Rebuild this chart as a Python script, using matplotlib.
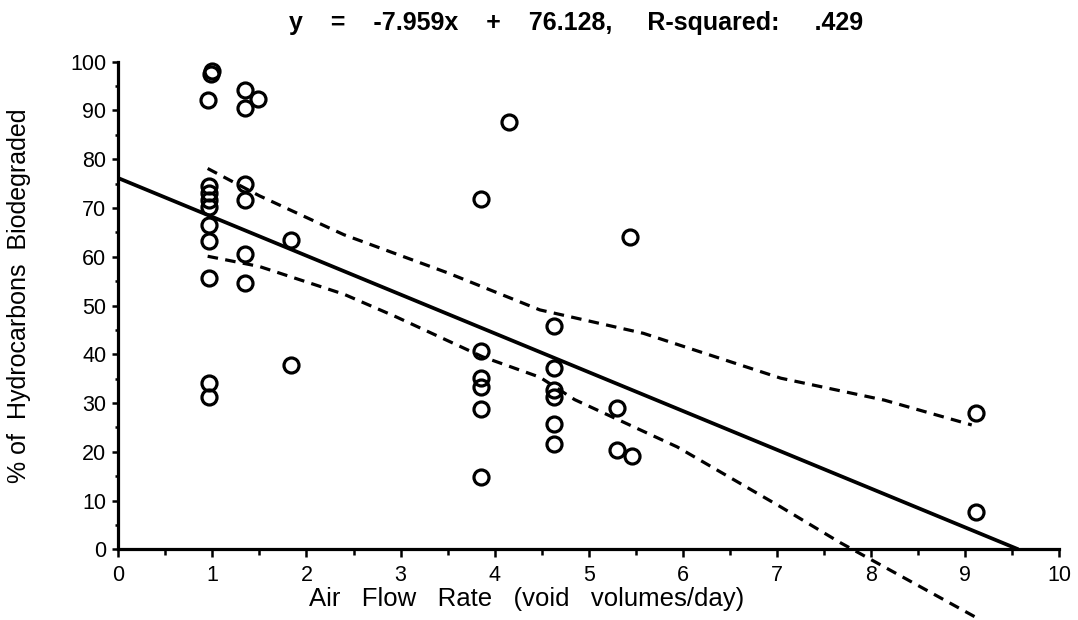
import numpy as np
import matplotlib.pyplot as plt
from matplotlib.ticker import MultipleLocator

plt.rcParams['font.family'] = ['Liberation Sans', 'DejaVu Sans']

# measured points: air flow rate vs. % biodegraded
flow = [0.99, 1.00, 0.95, 0.96, 0.96, 0.96, 0.96, 0.96, 0.96, 0.96, 0.96, 0.96,
        1.35, 1.35, 1.35, 1.35, 1.35, 1.35, 1.49,
        1.84, 1.84,
        3.85, 3.85, 3.85, 3.85, 3.85, 3.85,
        4.15,
        4.63, 4.63, 4.63, 4.63, 4.63, 4.63,
        5.30, 5.30, 5.46, 5.44,
        9.12, 9.12]
pct = [97.5, 98.0, 92.1, 74.5, 73.0, 71.6, 70.3, 66.5, 63.3, 55.6, 34.2, 31.3,
       94.1, 90.6, 75.0, 71.6, 60.5, 54.6, 92.3,
       63.4, 37.7,
       71.8, 40.7, 35.1, 33.3, 28.8, 14.9,
       87.6,
       45.7, 37.1, 32.7, 31.3, 25.8, 21.7,
       28.9, 20.4, 19.1, 64.0,
       27.9, 7.7]

# regression from the fitted equation
slope = -7.959
intercept = 76.128
r_squared = '.429'

# confidence band outlines
upper_x = [0.95, 1.5, 2.4, 3.5, 4.48, 5.58, 7.04, 8.14, 9.07]
upper_y = [78.1, 72.5, 64.5, 56.7, 49.1, 44.3, 35.1, 30.6, 25.5]
lower_x = [0.95, 1.5, 2.4, 2.95, 3.87, 4.48, 4.85, 5.94, 7.04, 7.67, 8.14, 9.1]
lower_y = [60.1, 58.0, 52.3, 47.7, 39.5, 35.3, 30.7, 21.0, 8.7, 1.4, -3.6, -13.8]

fig = plt.figure(figsize=(10.78, 6.2), dpi=100)
ax = fig.add_axes([0.1097, 0.114, 0.8729, 0.7865])

x_end = -intercept / slope
xs = np.array([0, x_end])
ax.plot(xs, intercept + slope * xs, color='black', lw=2.7, solid_capstyle='butt')

ax.plot(upper_x, upper_y, color='black', lw=2.3, dashes=(3.3, 2.3), dash_capstyle='butt')
ax.plot(lower_x, lower_y, color='black', lw=2.3, dashes=(3.3, 2.3), dash_capstyle='butt',
        clip_on=False)

ax.plot(flow, pct, 'o', ms=10.8, mfc='none', mec='black', mew=2.3, clip_on=False)

ax.set_xlim(0, 10)
ax.set_ylim(0, 100)
ax.xaxis.set_major_locator(MultipleLocator(1))
ax.xaxis.set_minor_locator(MultipleLocator(0.5))
ax.yaxis.set_major_locator(MultipleLocator(10))
ax.yaxis.set_minor_locator(MultipleLocator(5))

for side in ['top', 'right']:
    ax.spines[side].set_visible(False)
for side in ['left', 'bottom']:
    ax.spines[side].set_linewidth(2.3)

ax.tick_params(axis='x', which='major', direction='out', length=6, width=1.8,
               labelsize=15.5, pad=5)
ax.tick_params(axis='x', which='minor', direction='out', length=4.5, width=1.8)
ax.tick_params(axis='y', which='major', direction='out', length=4.5, width=1.8,
               labelsize=15.5, pad=4)
ax.tick_params(axis='y', which='minor', direction='out', length=2.5, width=1.8)

ax.set_xlabel('Air   Flow   Rate   (void   volumes/day)', fontsize=18.5)
ax.xaxis.set_label_coords(0.434, -0.077)
ax.set_ylabel('% of  Hydrocarbons  Biodegraded', fontsize=18)
ax.yaxis.set_label_coords(-0.093, 0.52)
ax.set_title('y    =    %.3fx    +    %.3f,     R-squared:     %s'
             % (slope, intercept, r_squared),
             fontsize=18, fontweight='bold', pad=23, x=0.487)

plt.savefig('out.png', dpi=100)
